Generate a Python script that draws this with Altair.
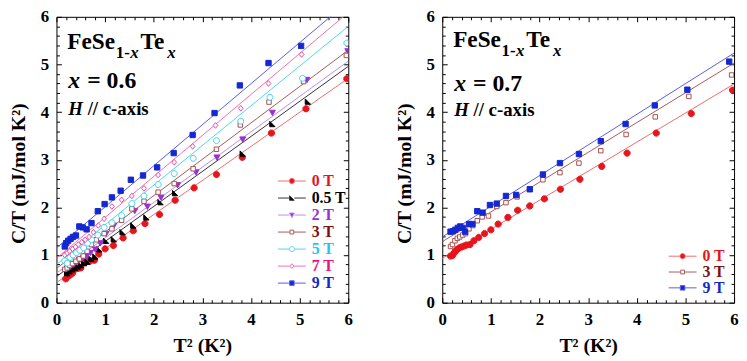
import altair as alt
import pandas as pd

# ---------------- data: FeSe(1-x)Te(x), x = 0.6 ----------------
L_series = ["0 T", "0.5 T", "2 T", "3 T", "5 T", "7 T", "9 T"]

L0_x = [0.19, 0.23, 0.28, 0.33, 0.38, 0.44, 0.50, 0.57, 0.63, 0.70, 0.78, 0.87, 1.00, 1.17, 1.37, 1.58, 1.82, 2.12, 2.44, 2.83, 3.29, 3.82, 4.42, 5.13, 5.97]
L0_y = [0.50, 0.55, 0.58, 0.62, 0.70, 0.72, 0.73, 0.85, 0.87, 0.88, 0.89, 1.02, 1.13, 1.20, 1.36, 1.51, 1.66, 1.85, 2.15, 2.41, 2.69, 3.05, 3.56, 4.07, 4.70]
L05_x = [0.22, 0.27, 0.32, 0.38, 0.44, 0.50, 0.57, 0.64, 0.72, 0.80, 0.88, 1.02, 1.18, 1.36, 1.58, 1.85, 2.14, 2.44, 3.83, 4.44, 5.17]
L05_y = [0.62, 0.66, 0.70, 0.73, 0.76, 0.79, 0.83, 0.86, 0.92, 0.97, 1.12, 1.30, 1.33, 1.48, 1.62, 1.79, 2.11, 2.30, 3.13, 3.75, 4.22]
L2_x = [0.22, 0.28, 0.34, 0.40, 0.47, 0.54, 0.62, 0.70, 0.80, 0.90, 1.02, 1.18, 1.61, 1.87, 2.15, 2.49, 2.87, 3.30, 3.83, 4.44, 5.15, 5.99]
L2_y = [0.72, 0.76, 0.80, 0.85, 0.90, 0.93, 0.98, 1.05, 1.12, 1.25, 1.45, 1.62, 1.93, 2.02, 2.21, 2.47, 2.74, 3.05, 3.43, 3.99, 4.68, 5.28]
L3_x = [0.17, 0.22, 0.27, 0.33, 0.40, 0.47, 0.55, 0.63, 0.72, 0.82, 0.98, 1.14, 1.34, 1.55, 1.80, 2.09, 2.42, 2.81, 3.29, 3.78, 4.37, 5.08, 5.96]
L3_y = [0.70, 0.73, 0.78, 0.82, 0.87, 0.92, 0.98, 1.08, 1.22, 1.32, 1.45, 1.55, 1.73, 1.97, 2.13, 2.32, 2.50, 2.81, 3.22, 3.73, 4.21, 4.64, 5.19]
L5_x = [0.17, 0.22, 0.28, 0.34, 0.41, 0.48, 0.56, 0.64, 0.72, 0.85, 0.98, 1.14, 1.34, 1.55, 1.80, 2.09, 2.42, 2.81, 3.29, 3.79, 4.39, 5.06, 5.97]
L5_y = [0.88, 0.83, 0.95, 1.00, 1.05, 1.10, 1.15, 1.25, 1.32, 1.42, 1.58, 1.68, 1.83, 2.08, 2.24, 2.48, 2.71, 3.03, 3.40, 3.81, 4.31, 4.71, 5.45]
L7_x = [0.17, 0.22, 0.27, 0.33, 0.39, 0.45, 0.52, 0.59, 0.67, 0.76, 0.86, 0.98, 1.14, 1.34, 1.55, 1.80, 2.09, 2.42, 2.80, 3.27, 3.79, 4.36, 5.04]
L7_y = [1.00, 1.04, 1.08, 1.13, 1.17, 1.22, 1.27, 1.32, 1.38, 1.48, 1.62, 1.76, 2.02, 2.16, 2.24, 2.40, 2.68, 2.95, 3.28, 3.72, 4.08, 4.60, 5.21]
L9_x = [0.17, 0.20, 0.24, 0.29, 0.34, 0.40, 0.47, 0.54, 0.62, 0.72, 0.85, 0.99, 1.14, 1.32, 1.53, 1.78, 2.07, 2.41, 2.80, 3.25, 3.77, 4.36, 5.03]
L9_y = [1.18, 1.25, 1.30, 1.34, 1.38, 1.41, 1.60, 1.58, 1.54, 1.67, 1.92, 2.07, 2.21, 2.35, 2.58, 2.67, 2.84, 3.14, 3.52, 3.98, 4.56, 5.03, 5.39]
# linear fits: C/T at T^2 = 0 and at T^2 = 6
L_fit_at0 = [0.42, 0.55, 0.62, 0.72, 0.80, 0.93, 1.15]
L_fit_at6 = [4.71, 4.96, 5.07, 5.30, 5.80, 6.09, 6.32]

# ---------------- data: x = 0.7 ----------------
R_series = ["0 T", "3 T", "9 T"]
R0_x = [0.17, 0.21, 0.24, 0.27, 0.31, 0.35, 0.40, 0.45, 0.50, 0.57, 0.65, 0.75, 0.87, 1.00, 1.15, 1.35, 1.55, 1.80, 2.10, 2.43, 2.83, 3.28, 3.80, 4.40, 5.12, 5.97]
R0_y = [0.98, 0.99, 1.04, 1.08, 1.12, 1.15, 1.17, 1.19, 1.21, 1.22, 1.30, 1.37, 1.45, 1.53, 1.65, 1.79, 1.94, 2.03, 2.18, 2.38, 2.59, 2.86, 3.14, 3.56, 3.97, 4.46]
R3_x = [0.17, 0.21, 0.26, 0.31, 0.36, 0.42, 0.48, 0.55, 0.63, 0.72, 0.82, 0.95, 1.12, 1.31, 1.54, 1.80, 2.07, 2.42, 2.81, 3.26, 3.78, 4.38, 5.07, 5.95]
R3_y = [1.18, 1.22, 1.30, 1.35, 1.38, 1.42, 1.45, 1.55, 1.62, 1.72, 1.80, 1.82, 2.02, 2.10, 2.22, 2.38, 2.58, 2.73, 2.93, 3.19, 3.53, 3.90, 4.33, 4.78]
R9_x = [0.17, 0.22, 0.27, 0.32, 0.37, 0.42, 0.47, 0.55, 0.62, 0.72, 0.83, 0.98, 1.12, 1.31, 1.52, 1.80, 2.07, 2.42, 2.81, 3.26, 3.77, 4.37, 5.04, 5.90]
R9_y = [1.49, 1.50, 1.53, 1.57, 1.60, 1.57, 1.49, 1.65, 1.65, 1.92, 1.89, 2.05, 2.08, 2.24, 2.26, 2.38, 2.69, 2.93, 3.12, 3.39, 3.75, 4.14, 4.47, 5.06]
R_fit_at0 = [0.93, 1.28, 1.38]
R_fit_at6 = [4.59, 5.03, 5.24]

x_ticks = [0, 1, 2, 3, 4, 5, 6]

# ---------------- styling ----------------
FONT = "Liberation Serif"
W, H = 295, 289


def circle(r):
    return f"M{-r},0A{r},{r} 0 1,0 {r},0A{r},{r} 0 1,0 {-r},0Z"


def square(h):
    return f"M{-h},{-h}H{h}V{h}H{-h}Z"


def diamond(w, h):
    return f"M0,{-h}L{w},0L0,{h}L{-w},0Z"


def tri_down(h):
    return f"M{-h},{-0.8 * h}H{h}L0,{h}Z"


def tri_corner(h):
    return f"M{-h},{-h}L{-h},{h}L{h},{h}Z"


def with_line(path, gap, half=4.7):
    return f"M{-half},0H{-gap}M{gap},0H{half}" + path


STY = {
    #          marker path,                       fill,      marker stroke, line color, label color
    "0 T":   (lambda k: circle(1.05 * k), "#e8141b", "#e8141b", "#f26b6b", "#e8141b"),
    "0.5 T": (lambda k: tri_corner(0.9 * k), "#000000", "#000000", "#333333", "#000000"),
    "2 T":   (lambda k: tri_down(1.0 * k), "#9b2fd6", "#9b2fd6", "#c28af0", "#9b2fd6"),
    "3 T":   (lambda k: square(0.75 * k), "#ffffff", "#a5534f", "#a65a5a", "#7a1212"),
    "5 T":   (lambda k: circle(1.0 * k), "#ffffff", "#3ccff2", "#4fd6f2", "#22c6f0"),
    "7 T":   (lambda k: diamond(0.8 * k, 0.95 * k), "#ffffff", "#f0489e", "#f26eb0", "#e8157a"),
    "9 T":   (lambda k: square(0.9 * k), "#1428d2", "#1428d2", "#5b5be6", "#1428c8"),
}
GAP = {"0 T": 1.0, "0.5 T": 0.8, "2 T": 0.9, "3 T": 0.7, "5 T": 0.9, "7 T": 0.75, "9 T": 0.85}

LBL = dict(labelFont=FONT, labelFontSize=17, labelFontWeight="bold", labelColor="black",
           titleFont=FONT, titleFontSize=20, titleFontWeight="bold", titleColor="black")


def xs():
    return alt.Scale(domain=[0, 6], nice=False, zero=False)


def tick_axis(orient, offset, values, size):
    return alt.Axis(orient=orient, offset=offset, values=values, ticks=True, tickSize=size,
                    tickColor="black", tickWidth=1, labels=False, domain=False, grid=False, title=None)


major = [0, 1, 2, 3, 4, 5, 6]
minor = [round(i * 0.2, 1) for i in range(31) if i % 5 != 0]


def panel(series, xlists, ylists, fit0, fit6, ann, legend_pos):
    pts = pd.concat([pd.DataFrame({"T2": xl, "CT": yl, "s": s})
                     for s, xl, yl in zip(series, xlists, ylists)], ignore_index=True)
    lines = pd.DataFrame({"T2": [0, 6] * len(series),
                          "CT": [v for a, b in zip(fit0, fit6) for v in (a, b)],
                          "s": [s for s in series for _ in range(2)]})
    leg = pd.DataFrame({"s": series})

    line_colors = [STY[s][3] for s in series]
    fills = [STY[s][1] for s in series]
    strokes = [STY[s][2] for s in series]
    shapes = [STY[s][0](1.0) for s in series]
    leg_shapes = [with_line(STY[s][0](0.85), GAP[s]) for s in series]
    label_expr = " : ".join(f"datum.label == '{s}' ? '{STY[s][4]}'" for s in series) + " : 'black'"

    lines_layer = alt.Chart(lines).mark_line(clip=True, strokeWidth=1).encode(
        x=alt.X("T2:Q", scale=xs(), axis=alt.Axis(
            orient="bottom", values=x_ticks, format="d", ticks=False, tickSize=0, domain=False,
            grid=False, labelPadding=9, labelFlush=False, title="T² (K²)", titlePadding=8, **LBL)),
        y=alt.Y("CT:Q", scale=xs(), axis=alt.Axis(
            orient="left", values=x_ticks, format="d", ticks=False, tickSize=0, domain=False,
            grid=False, labelPadding=8, title="C/T (mJ/mol K²)", titleX=-28, titleY=158, **LBL)),
        color=alt.Color("s:N", scale=alt.Scale(domain=series, range=line_colors), legend=None),
    )

    pts_layer = alt.Chart(pts).mark_point(filled=True, clip=True, strokeWidth=1, opacity=1, size=36).encode(
        x=alt.X("T2:Q", scale=xs(), axis=tick_axis("top", -H, major, 5)),
        y=alt.Y("CT:Q", scale=xs(), axis=tick_axis("right", -W, major, 5)),
        shape=alt.Shape("s:N", scale=alt.Scale(domain=series, range=shapes), legend=None),
        fill=alt.Fill("s:N", scale=alt.Scale(domain=series, range=fills), legend=None),
        stroke=alt.Stroke("s:N", scale=alt.Scale(domain=series, range=strokes), legend=None),
    )

    lx, ly, rowpad = legend_pos
    lg = alt.Legend(orient="none", legendX=lx, legendY=ly, title=None, padding=0,
                    labelFont=FONT, labelFontSize=16, labelFontWeight="bold",
                    labelColor={"expr": label_expr}, symbolSize=36, symbolStrokeWidth=1,
                    symbolOpacity=1, labelOffset=12, rowPadding=rowpad)
    leg_layer = alt.Chart(leg).mark_point(filled=True, clip=True, opacity=0).encode(
        shape=alt.Shape("s:N", scale=alt.Scale(domain=series, range=leg_shapes), legend=lg),
        fill=alt.Fill("s:N", scale=alt.Scale(domain=series, range=fills), legend=lg),
        stroke=alt.Stroke("s:N", scale=alt.Scale(domain=series, range=line_colors), legend=lg),
    )

    extra_axes = [
        (tick_axis("top", -H, minor, 3), tick_axis("right", -W, minor, 3)),
        (tick_axis("bottom", -H, major, 5), tick_axis("left", -W, major, 5)),
        (tick_axis("bottom", -H, minor, 3), tick_axis("left", -W, minor, 3)),
    ]
    text_layers = []
    i = 0
    for (ax, ay, pieces) in ann:
        for (txt, dx, dy, size, italic) in pieces:
            if i < len(extra_axes):
                xa, ya = extra_axes[i]
            else:
                xa, ya = None, None
            i += 1
            t = alt.Chart(pd.DataFrame({"x": [ax], "y": [ay]})).mark_text(
                text=txt, align="left", baseline="alphabetic", dx=dx, dy=dy,
                font=FONT, fontSize=size, fontWeight="bold",
                fontStyle="italic" if italic else "normal", color="black",
            ).encode(
                x=alt.X("x:Q", scale=xs(), axis=xa),
                y=alt.Y("y:Q", scale=xs(), axis=ya),
            )
            text_layers.append(t)

    return alt.layer(lines_layer, pts_layer, leg_layer, *text_layers).resolve_scale(
        shape="independent", fill="independent", stroke="independent"
    ).resolve_axis(x="independent", y="independent").properties(width=W, height=H)


def annotation(comp, x1, y1, x2, y2, y3):
    return [
        (x1, y1, [("FeSe", 0, 0, 23.5, False), ("1-", 49, 9, 17, False), ("x", 63.5, 9, 17, True),
                  ("Te", 74, 0, 23.5, False), ("x", 101, 9, 17, True)]),
        (x2, y2, [("x", 0, 0, 24, True), ("= " + comp, 19, 0, 24, False)]),
        (x2, y3, [("H", 0, 0, 19, True), ("// c-axis", 19.5, 0, 19, False)]),
    ]


left = panel(L_series,
             [L0_x, L05_x, L2_x, L3_x, L5_x, L7_x, L9_x],
             [L0_y, L05_y, L2_y, L3_y, L5_y, L7_y, L9_y],
             L_fit_at0, L_fit_at6,
             annotation("0.6", 0.224, 5.33, 0.244, 4.50, 3.94),
             (230, 158, 1.2))
right = panel(R_series,
              [R0_x, R3_x, R9_x],
              [R0_y, R3_y, R9_y],
              R_fit_at0, R_fit_at6,
              annotation("0.7", 0.224, 5.37, 0.245, 4.44, 3.92),
              (235, 234, 0))

chart = alt.hconcat(left, right, spacing=41).resolve_scale(
    x="independent", y="independent", color="independent", fill="independent",
    stroke="independent", shape="independent"
).properties(
    padding={"left": 0, "top": -3, "right": 0, "bottom": 0}
).configure_view(
    stroke="black", strokeWidth=1
).configure_axis(grid=False, **LBL)

chart.save("out.html", embed_options={"renderer": "svg", "actions": False})
